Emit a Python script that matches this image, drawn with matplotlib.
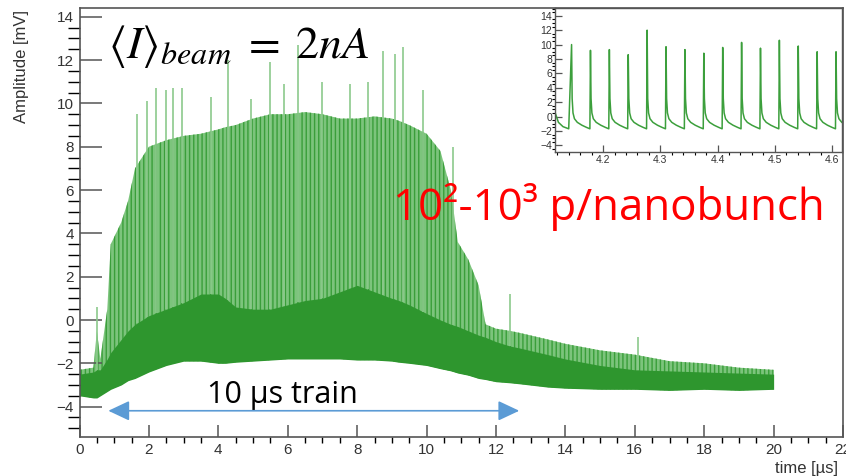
import numpy as np
import matplotlib
matplotlib.use("Agg")
import matplotlib.pyplot as plt
from matplotlib.ticker import MultipleLocator

# === DATA ===
# envelope of the 20 us acquisition, time in us, amplitude in mV
T_ENV = [0, 0.4, 0.5, 0.6, 0.8, 0.9, 1.2, 1.4, 1.6, 2.0,
         2.5, 3.0, 3.5, 4.0, 4.2, 4.5, 5.0, 5.5, 6.0, 6.5,
         7.0, 7.5, 8.0, 8.5, 9.0, 9.2, 9.5, 10.0, 10.4, 10.7,
         10.9, 11.2, 11.5, 11.7, 12.0, 12.4, 12.7, 13.5, 14.0, 15.0,
         16.0, 17.0, 18.0, 19.0, 20.0]
LOWER = [-3.5, -3.6, -3.6, -3.5, -3.3, -3.2, -3.0, -2.8, -2.7, -2.4,
         -2.1, -1.9, -1.9, -2.0, -2.0, -1.95, -1.9, -1.85, -1.8, -1.8,
         -1.8, -1.8, -1.85, -1.85, -1.9, -1.95, -2.0, -2.1, -2.25, -2.35,
         -2.45, -2.55, -2.7, -2.75, -2.85, -2.9, -2.95, -3.1, -3.15, -3.2,
         -3.2, -3.25, -3.2, -3.25, -3.2]
DENSE = [-2.5, -2.4, -2.3, -2.3, -1.8, -1.5, -0.9, -0.5, -0.2, 0.2,
         0.5, 0.8, 1.2, 1.2, 1.0, 0.6, 0.5, 0.5, 0.7, 0.9,
         1.0, 1.3, 1.6, 1.3, 1.0, 0.9, 0.7, 0.3, 0.0, -0.2,
         -0.3, -0.5, -0.7, -0.8, -1.0, -1.2, -1.3, -1.6, -1.8, -2.1,
         -2.3, -2.35, -2.4, -2.45, -2.5]
TYPICAL = [-2.3, -2.2, -0.5, -1.8, 0.5, 3.5, 4.5, 5.5, 7.0, 8.0,
           8.3, 8.5, 8.6, 8.8, 8.9, 9.0, 9.3, 9.5, 9.5, 9.6,
           9.5, 9.3, 9.3, 9.4, 9.3, 9.2, 9.0, 8.6, 7.8, 6.0,
           3.6, 2.8, 1.6, -0.2, -0.4, -0.5, -0.6, -0.9, -1.1, -1.4,
           -1.6, -1.9, -2.0, -2.2, -2.3]

# tallest single spikes
SPIKE_T = [0.5, 1.65, 1.95, 2.2, 2.5, 2.7, 2.95, 3.8, 4.27, 4.95, 5.5, 5.9,
           6.3, 6.98, 7.8, 8.3, 8.75, 9.1, 9.33, 9.9, 10.76, 12.4, 16.1]
SPIKE_V = [0.6, 9.5, 10.1, 10.7, 10.6, 10.7, 10.7, 10.3, 12.0, 10.2, 11.9, 10.9,
           12.7, 11.0, 10.9, 11.0, 12.4, 12.3, 12.6, 10.6, 8.0, 1.2, -0.8]

# inset: zoom on single nanobunches
INSET_START_T = [4.116, 4.122, 4.130, 4.140]
INSET_START_V = [0.6, -0.8, -1.4, -1.7]
INSET_PEAK_T = [4.145, 4.178, 4.211, 4.244, 4.277, 4.310, 4.343, 4.376,
                4.409, 4.442, 4.475, 4.508, 4.541, 4.574, 4.607]
INSET_PEAK_V = [10.0, 9.2, 9.3, 8.6, 12.0, 9.7, 9.3, 8.8,
                9.6, 10.3, 9.5, 10.6, 9.8, 9.0, 9.0]
TAIL_DT = [0.001, 0.0025, 0.005, 0.010, 0.018, 0.026, 0.032]
TAIL_V = [2.5, 0.5, -0.3, -0.8, -1.2, -1.5, -1.7]

GREEN = "#2e962e"
MID = "#7cc47c"
AXC = "#555555"
TXT = "#333333"

plt.rcParams['font.family'] = ['Liberation Sans', 'DejaVu Sans']
plt.rcParams['hatch.linewidth'] = 1.0
plt.rcParams['mathtext.fontset'] = 'stix'

fig = plt.figure(figsize=(8.46, 4.76), dpi=100)
ax = fig.add_axes([0.094, 0.082, 0.9025, 0.901])

t = np.array(T_ENV)
ax.fill_between(t, LOWER, TYPICAL, facecolor=MID, edgecolor="#3a9e3a",
                hatch="||||", linewidth=0)
ax.vlines(SPIKE_T, np.interp(SPIKE_T, t, DENSE), SPIKE_V,
          color="#8cca8c", lw=1.2)
ax.fill_between(t, LOWER, DENSE, color=GREEN, linewidth=0)

ax.set_xlim(0, 22)
ax.xaxis.set_major_locator(MultipleLocator(2))
ax.xaxis.set_minor_locator(MultipleLocator(0.5))
ax.yaxis.set_minor_locator(MultipleLocator(0.5))
ax.tick_params(axis='both', direction='in', colors=AXC, labelcolor=TXT,
               labelsize=11, top=False, right=False)
ax.tick_params(axis='y', which='major', length=15.5, width=1.1, pad=4)
ax.tick_params(axis='y', which='minor', length=8.5, width=1.0)
ax.tick_params(axis='x', which='major', length=8.5, width=1.1, pad=4)
ax.tick_params(axis='x', which='minor', length=4.3, width=1.0)
for s in ax.spines.values():
    s.set_color(AXC)
    s.set_linewidth(1.2)
ax.set_yticks(np.arange(-4, 15, 2))
ax.set_yticklabels([f"{v:g}".replace("-", "\u2212") for v in ax.get_yticks()])
ax.set_ylim(-5.4, 14.4)

fig.text(0.026, 0.98, "Amplitude [mV]", rotation=90, ha='center', va='top',
         fontsize=12, color=TXT)
fig.text(0.991, 0.0, "time [\u00b5s]", ha='right', va='bottom',
         fontsize=12, color=TXT)

# annotations
ax.text(0.82, 12.1, r'$\langle I\rangle_{beam}\;=\;2nA$', fontsize=33,
        ha='left', va='baseline', color='black')
ax.text(9.03, 4.6, "10\u00b2-10\u00b3 p/nanobunch", fontsize=31.5,
        family=['Open Sans', 'DejaVu Sans'], color='#ff0000', ha='left', va='baseline')
ax.text(3.67, -3.83, "10 \u00b5s train", fontsize=22,
        family=['Open Sans', 'DejaVu Sans'], color='black', ha='left', va='baseline')
ax.annotate('', xy=(12.67, -4.19), xytext=(0.83, -4.19),
            arrowprops=dict(arrowstyle='<|-|>,head_length=1.0,head_width=0.47',
                            mutation_scale=13, color='#5b9bd5', lw=1.2,
                            shrinkA=0, shrinkB=0))

# inset
ins = fig.add_axes([0.656, 0.681, 0.339, 0.3025])
ins.set_facecolor('white')
xs = list(INSET_START_T)
ys = list(INSET_START_V)
for tp, vp in zip(INSET_PEAK_T, INSET_PEAK_V):
    xs.append(tp)
    ys.append(vp)
    for dt, v in zip(TAIL_DT, TAIL_V):
        xs.append(tp + dt)
        ys.append(v)
ins.plot(xs, ys, color="#3c9f3c", lw=1.1)
ins.set_xlim(4.116, 4.617)
ins.xaxis.set_major_locator(MultipleLocator(0.1))
ins.xaxis.set_minor_locator(MultipleLocator(0.02))
ins.yaxis.set_minor_locator(MultipleLocator(0.5))
ins.tick_params(axis='both', direction='in', colors=AXC, labelcolor=TXT,
                labelsize=7.5, pad=2, top=False, right=False)
ins.tick_params(axis='both', which='major', length=5, width=0.9)
ins.tick_params(axis='both', which='minor', length=2.5, width=0.8)
for s in ins.spines.values():
    s.set_color(AXC)
    s.set_linewidth(1.0)
ins.set_yticks(np.arange(-4, 15, 2))
ins.set_yticklabels([f"{v:g}".replace("-", "\u2212") for v in ins.get_yticks()])
ins.set_ylim(-4.9, 15.1)

fig.savefig("out.png", dpi=100)
